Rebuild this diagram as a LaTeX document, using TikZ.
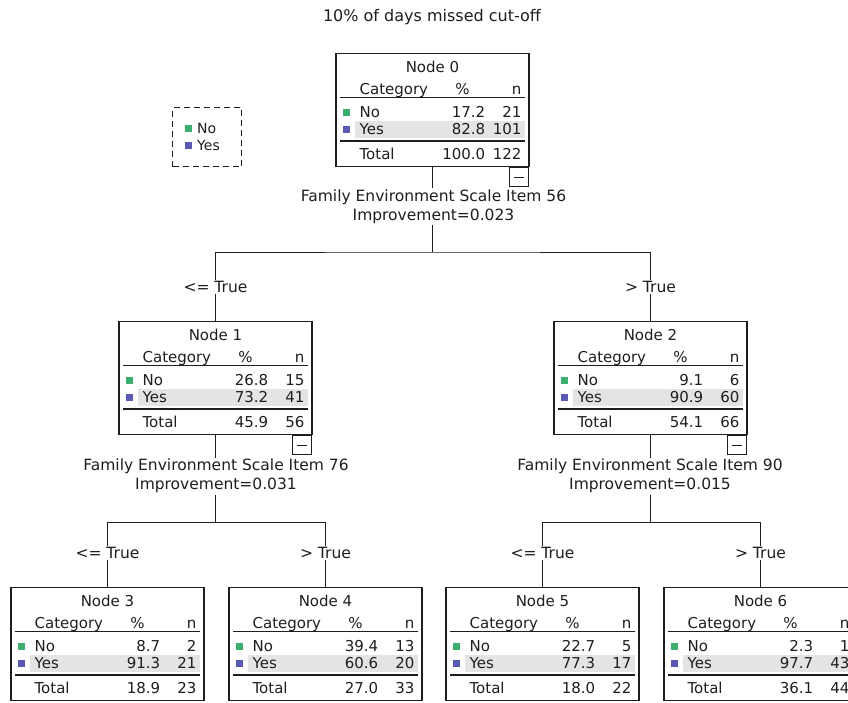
\documentclass[tikz,border=0pt]{standalone}
\usepackage{fontspec}
\setmainfont{DejaVu Sans}
\usetikzlibrary{calc}
\definecolor{nogreen}{HTML}{3BAF6E}
\definecolor{yespurple}{HTML}{5A5AB5}
\definecolor{bandgray}{HTML}{E4E4E4}
\definecolor{ink}{HTML}{1E1E1E}
\tikzset{
  nodebox/.style={draw=ink, line width=1.2pt, minimum width=193pt, minimum height=113pt, inner sep=0pt, anchor=north, fill=white},
  txt/.style={font=\fontsize{15}{18}\selectfont, inner sep=0pt, text=ink},
  lbl/.style={font=\fontsize{15.5}{19}\selectfont, fill=white, inner sep=1.5pt, align=center, text=ink},
  legtxt/.style={font=\fontsize{14}{16}\selectfont, inner sep=0pt, anchor=west, text=ink},
  conn/.style={draw=ink, line width=1pt},
  rulerline/.style={draw=ink, line width=1.1pt},
  minusbox/.style={draw=ink, line width=1pt, minimum width=19pt, minimum height=19pt, inner sep=0pt, anchor=north east, fill=white},
  sq/.style={minimum size=7pt, inner sep=0pt},
}
\newcommand\ctreebox[4]{%
  \node[nodebox] (#1) at (#2,#3) {};
  \node[txt, anchor=base] (#1-title) at ($(#1.north)+(0,19.5)$) {Node #4};
  \node[txt, anchor=base west] (#1-cat) at ($(#1.north west)+(24,41.5)$) {Category};
  \node[txt, anchor=base] (#1-pct) at ($(#1.north west)+(127,41.5)$) {\%};
  \node[txt, anchor=base east] (#1-nh) at ($(#1.north east)+(-8,41.5)$) {n};
  \draw[rulerline] ($(#1.north west)+(5,44.5)$) -- ($(#1.north east)+(-5,44.5)$);
  \fill[bandgray] ($(#1.north west)+(20,68)$) rectangle ($(#1.north east)+(-5,85)$);
  \draw[rulerline] ($(#1.north west)+(5,88)$) -- ($(#1.north east)+(-5,88)$);
  \node[sq, fill=nogreen] (#1-sqno) at ($(#1.north west)+(11,59)$) {};
  \node[sq, fill=yespurple] (#1-sqyes) at ($(#1.north west)+(11,76)$) {};
  \node[txt, anchor=base west] (#1-no) at ($(#1.north west)+(24,64.5)$) {No};
  \node[txt, anchor=base west] (#1-yes) at ($(#1.north west)+(24,81.5)$) {Yes};
  \node[txt, anchor=base west] (#1-tot) at ($(#1.north west)+(24,106.5)$) {Total};
}
\newcommand\ctreerows[7]{%
  \node[txt, anchor=base east] (#1-nop) at ($(#1.north west)+(150,64.5)$) {#2};
  \node[txt, anchor=base east] (#1-non) at ($(#1.north east)+(-8,64.5)$) {#3};
  \node[txt, anchor=base east] (#1-yesp) at ($(#1.north west)+(150,81.5)$) {#4};
  \node[txt, anchor=base east] (#1-yesn) at ($(#1.north east)+(-8,81.5)$) {#5};
  \node[txt, anchor=base east] (#1-totp) at ($(#1.north west)+(150,106.5)$) {#6};
  \node[txt, anchor=base east] (#1-totn) at ($(#1.north east)+(-8,106.5)$) {#7};
}
\newcommand\cminus[1]{%
  \node[minusbox] (#1-m) at ($(#1.south east)+(-1,0)$) {};
  \draw[ink, line width=1pt] ($(#1-m.center)+(-5,0)$) -- ($(#1-m.center)+(5,0)$);
}
\begin{document}
\begin{tikzpicture}[x=1pt, y=-1pt]
  \clip (0,0) rectangle (848,702);
  \fill[white] (0,0) rectangle (848,702);

  % title
  \node[font=\fontsize{16}{19}\selectfont, text=ink] (title) at (432,17) {10\% of days missed cut-off};

  % legend
  \node[draw=ink, dashed, dash pattern=on 6pt off 4pt, line width=1pt, minimum width=69pt, minimum height=59pt, inner sep=0pt, anchor=north west] (legend) at (172,107) {};
  \node[sq, fill=nogreen] (legsqno) at (188,128) {};
  \node[sq, fill=yespurple] (legsqyes) at (188,145) {};
  \node[legtxt] (legno) at (197,128) {No};
  \node[legtxt] (legyes) at (197,145) {Yes};

  % tree nodes
  \ctreebox{n0}{432.5}{53}{0}
  \ctreerows{n0}{17.2}{21}{82.8}{101}{100.0}{122}
  \ctreebox{n1}{215.5}{321}{1}
  \ctreerows{n1}{26.8}{15}{73.2}{41}{45.9}{56}
  \ctreebox{n2}{650.5}{321}{2}
  \ctreerows{n2}{9.1}{6}{90.9}{60}{54.1}{66}
  \ctreebox{n3}{107.5}{587}{3}
  \ctreerows{n3}{8.7}{2}{91.3}{21}{18.9}{23}
  \ctreebox{n4}{325.5}{587}{4}
  \ctreerows{n4}{39.4}{13}{60.6}{20}{27.0}{33}
  \ctreebox{n5}{542.5}{587}{5}
  \ctreerows{n5}{22.7}{5}{77.3}{17}{18.0}{22}
  \ctreebox{n6}{760.5}{587}{6}
  \ctreerows{n6}{2.3}{1}{97.7}{43}{36.1}{44}

  % connectors
  \coordinate (j0) at (432.5,252);
  \coordinate (j1) at (215.5,522);
  \coordinate (j2) at (650.5,522);
  \draw[conn] (n0.south) -- (j0);
  \draw[conn] (n1.north) |- (j0) -| (n2.north);
  \draw[conn] (n1.south) -- (j1);
  \draw[conn] (n3.north) |- (j1) -| (n4.north);
  \draw[conn] (n2.south) -- (j2);
  \draw[conn] (n5.north) |- (j2) -| (n6.north);

  % collapse boxes
  \cminus{n0}
  \cminus{n1}
  \cminus{n2}

  % split labels
  \node[lbl] (s0) at (433.5,206.5) {Family Environment Scale Item 56\\Improvement=0.023};
  \node[lbl] (s1) at (216,476) {Family Environment Scale Item 76\\Improvement=0.031};
  \node[lbl] (s2) at (650,476) {Family Environment Scale Item 90\\Improvement=0.015};

  % branch labels
  \node[lbl] (e1) at (215.5,287) {<= True};
  \node[lbl] (e2) at (650.5,287) {> True};
  \node[lbl] (e3) at (107.5,553) {<= True};
  \node[lbl] (e4) at (325.5,553) {> True};
  \node[lbl] (e5) at (542.5,553) {<= True};
  \node[lbl] (e6) at (760.5,553) {> True};
\end{tikzpicture}
\end{document}
